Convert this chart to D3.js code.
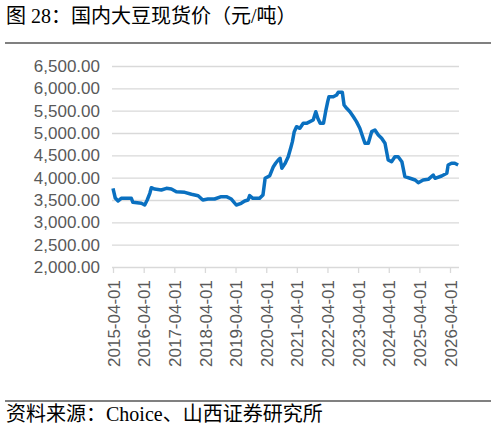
<!DOCTYPE html>
<html>
<head>
<meta charset="utf-8">
<script src="https://cdn.jsdelivr.net/npm/d3@7"></script>
<style>
body{margin:0;background:#fff;}
svg{display:block;}
.title,.source{font-family:"Liberation Serif","Times New Roman","Noto Sans CJK SC",serif;fill:#000;}
.axis text{font-family:"Liberation Sans",Arial,sans-serif;fill:#595959;font-size:17px;}
</style>
</head>
<body>
<svg id="chart"></svg>
<script>
// dates and spot price (元/吨)
var dates = ["2015-04-01","2015-04-28","2015-06-01","2015-07-08","2015-11-06","2015-11-24","2016-03-04","2016-04-13","2016-05-13","2016-06-13",
  "2016-07-01","2016-08-10","2016-10-28","2016-12-28","2017-02-25","2017-04-25","2017-08-04","2017-10-22","2018-01-10","2018-03-07",
  "2018-05-07","2018-07-25","2018-10-13","2018-12-13","2019-02-10","2019-04-10","2019-06-07","2019-07-19","2019-08-28","2019-09-16",
  "2019-10-25","2020-01-13","2020-02-22","2020-03-19","2020-05-13","2020-06-25","2020-07-22","2020-08-22","2020-09-13","2020-10-04",
  "2020-11-13","2020-12-19","2021-01-22","2021-02-07","2021-03-01","2021-03-28","2021-05-07","2021-06-16","2021-07-25","2021-09-04",
  "2021-10-13","2021-11-13","2021-12-07","2022-01-04","2022-02-13","2022-03-10","2022-04-04","2022-04-19","2022-06-10","2022-07-19",
  "2022-08-07","2022-09-25","2022-10-16","2022-11-16","2022-12-25","2023-02-04","2023-03-13","2023-04-22","2023-06-01","2023-06-22",
  "2023-08-01","2023-09-10","2023-10-19","2023-11-28","2024-01-07","2024-02-16","2024-03-25","2024-05-04","2024-06-13","2024-07-22",
  "2024-09-04","2024-10-10","2024-12-10","2025-02-10","2025-03-19","2025-05-16","2025-07-16","2025-09-13","2025-10-04","2025-12-22",
  "2026-02-22","2026-03-10","2026-04-19","2026-05-28","2026-07-07"];
var prices = [3760,3545,3478,3538,3538,3449,3426,3388,3500,3650,
  3776,3746,3724,3762,3746,3686,3672,3628,3597,3500,
  3522,3522,3575,3575,3522,3388,3426,3478,3500,3597,
  3538,3538,3612,3986,4045,4246,4322,4396,4434,4210,
  4322,4470,4694,4806,5030,5141,5105,5217,5217,5254,
  5291,5477,5329,5217,5217,5477,5701,5813,5813,5851,
  5911,5911,5627,5553,5477,5365,5254,5105,4882,4770,
  4770,5030,5067,4956,4882,4770,4396,4358,4470,4470,
  4358,4022,3986,3948,3888,3948,3963,4060,3986,4037,
  4098,4284,4322,4322,4284];
var yTicks = [2000,2500,3000,3500,4000,4500,5000,5500,6000,6500];
var xTickLabels = ["2015-04-01","2016-04-01","2017-04-01","2018-04-01","2019-04-01","2020-04-01",
  "2021-04-01","2022-04-01","2023-04-01","2024-04-01","2025-04-01","2026-04-01"];

var parse = d3.timeParse("%Y-%m-%d");
var data = dates.map(function(d,i){ return {date:parse(d), value:prices[i]}; });

var screen = {width:496, height:430};
var plot = {left:112, right:459, top:66, bottom:267};

var svg = d3.select("#chart")
    .attr("width",screen.width)
    .attr("height",screen.height);

// title and rules
svg.append("text").classed("title",true)
    .attr("x",6).attr("y",23)
    .style("font-size","20px")
    .text("图 28：国内大豆现货价（元/吨）");
svg.append("line")
    .attr("x1",5).attr("x2",491).attr("y1",43).attr("y2",43)
    .attr("stroke","#808080").attr("stroke-width",2);
svg.append("line")
    .attr("x1",5).attr("x2",491).attr("y1",401).attr("y2",401)
    .attr("stroke","#808080").attr("stroke-width",2);
svg.append("text").classed("source",true)
    .attr("x",6).attr("y",421)
    .style("font-size","20px")
    .text("资料来源：Choice、山西证券研究所");

// scales
var xScale = d3.scaleTime()
    .domain([parse("2015-04-01"),parse("2026-04-01")])
    .range([113,450]);
var yScale = d3.scaleLinear()
    .domain([2000,6500])
    .range([plot.bottom,plot.top]);

// y axis with gridlines
var yAxis = d3.axisLeft(yScale)
    .tickValues(yTicks)
    .tickFormat(d3.format(",.2f"))
    .tickSize(-(plot.right-plot.left))
    .tickPadding(12);
var gy = svg.append("g").classed("axis",true)
    .attr("transform","translate("+plot.left+",0)")
    .call(yAxis);
gy.select(".domain").remove();
gy.selectAll("line").attr("stroke","#d9d9d9").attr("stroke-width",1.3);

// x axis
var xAxis = d3.axisBottom(xScale)
    .tickValues(xTickLabels.map(parse))
    .tickFormat(d3.timeFormat("%Y-%m-%d"))
    .tickSize(6);
var gx = svg.append("g").classed("axis",true)
    .attr("transform","translate(0,"+plot.bottom+")")
    .call(xAxis);
gx.select(".domain").remove();
gx.selectAll("line").attr("stroke","#d9d9d9").attr("stroke-width",1.3);
gx.selectAll("text")
    .attr("transform","rotate(-90)")
    .attr("text-anchor","end")
    .attr("x",-13)
    .attr("y",0)
    .attr("dy","0.36em");

// the line
var line = d3.line()
    .x(function(d){ return xScale(d.date); })
    .y(function(d){ return yScale(d.value); });
svg.append("path")
    .datum(data)
    .attr("fill","none")
    .attr("stroke","#0a70c0")
    .attr("stroke-width",3.5)
    .attr("stroke-linejoin","round")
    .attr("d",line);
</script>
</body>
</html>
